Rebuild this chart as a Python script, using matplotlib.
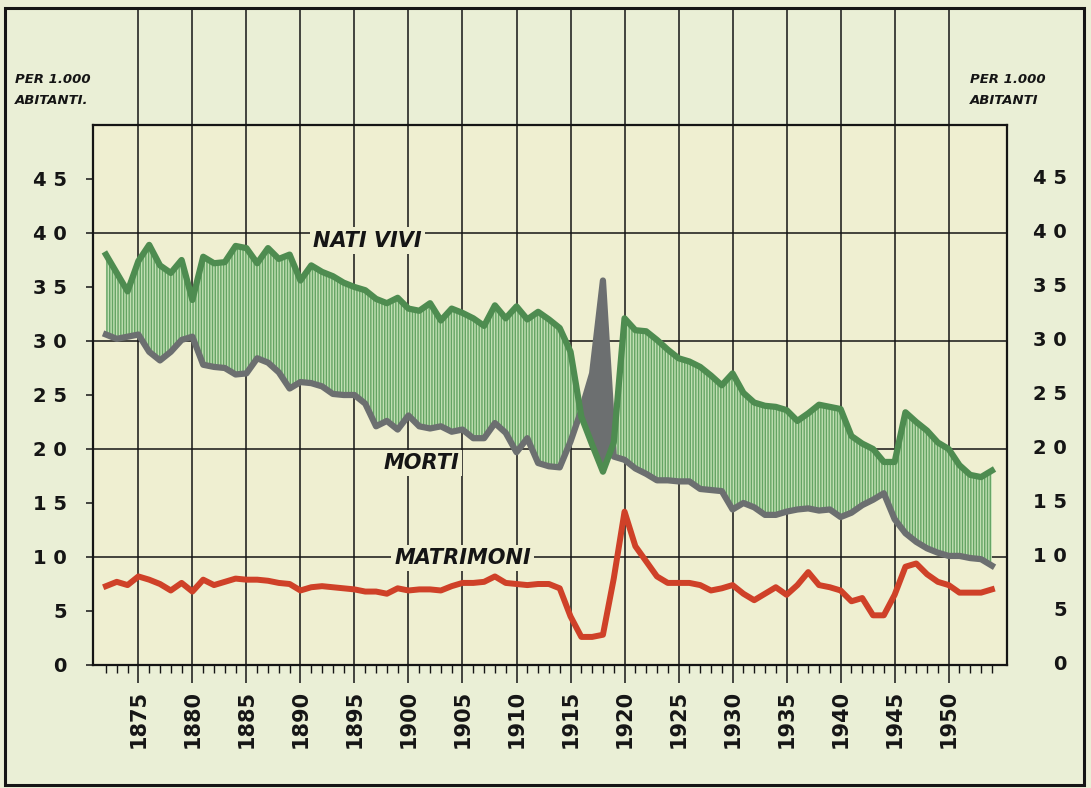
import numpy as np
import matplotlib
matplotlib.use("Agg")
import matplotlib.pyplot as plt
from matplotlib import transforms
from matplotlib.patches import Rectangle

# ---- data (per 1,000 inhabitants) ----
years = np.arange(1872, 1955)

nati_vivi = [38.0, 36.3, 34.6, 37.4, 38.9, 37.0, 36.3, 37.5, 33.8, 37.8,
             37.2, 37.3, 38.8, 38.6, 37.2, 38.6, 37.6, 38.0, 35.6, 37.0,
             36.4, 36.0, 35.4, 35.0, 34.7, 33.9, 33.5, 34.0, 33.0, 32.8,
             33.5, 31.9, 33.0, 32.6, 32.1, 31.4, 33.3, 32.1, 33.2, 32.0,
             32.7, 32.0, 31.2, 29.0, 23.0, 20.4, 17.9, 20.6, 32.1, 31.0,
             30.9, 30.1, 29.2, 28.4, 28.1, 27.6, 26.8, 25.9, 27.0, 25.2,
             24.3, 24.0, 23.9, 23.6, 22.6, 23.3, 24.1, 23.9, 23.7, 21.2,
             20.5, 20.0, 18.8, 18.8, 23.4, 22.5, 21.7, 20.6, 20.0, 18.5,
             17.6, 17.4, 18.0]

morti = [30.6, 30.2, 30.4, 30.6, 29.0, 28.2, 29.0, 30.1, 30.4, 27.8,
         27.6, 27.5, 26.9, 27.0, 28.4, 28.0, 27.1, 25.6, 26.2, 26.1,
         25.8, 25.1, 25.0, 25.0, 24.2, 22.1, 22.6, 21.8, 23.1, 22.1,
         21.9, 22.1, 21.6, 21.8, 21.0, 21.0, 22.4, 21.5, 19.7, 21.0,
         18.7, 18.4, 18.3, 20.7, 23.6, 27.0, 35.6, 19.3, 19.0, 18.2,
         17.7, 17.1, 17.1, 17.0, 17.0, 16.3, 16.2, 16.1, 14.4, 15.0,
         14.6, 13.9, 13.9, 14.2, 14.4, 14.5, 14.3, 14.4, 13.7, 14.1,
         14.8, 15.3, 15.9, 13.5, 12.2, 11.4, 10.8, 10.4, 10.1, 10.1,
         9.9, 9.8, 9.2]

matrimoni = [7.3, 7.7, 7.4, 8.2, 7.9, 7.5, 6.9, 7.6, 6.8, 7.9,
             7.4, 7.7, 8.0, 7.9, 7.9, 7.8, 7.6, 7.5, 6.9, 7.2,
             7.3, 7.2, 7.1, 7.0, 6.8, 6.8, 6.6, 7.1, 6.9, 7.0,
             7.0, 6.9, 7.3, 7.6, 7.6, 7.7, 8.2, 7.6, 7.5, 7.4,
             7.5, 7.5, 7.1, 4.5, 2.6, 2.6, 2.8, 8.0, 14.2, 11.0,
             9.6, 8.2, 7.6, 7.6, 7.6, 7.4, 6.9, 7.1, 7.4, 6.6,
             6.0, 6.6, 7.2, 6.5, 7.4, 8.6, 7.4, 7.2, 6.9, 5.9,
             6.2, 4.6, 4.6, 6.5, 9.1, 9.4, 8.4, 7.7, 7.4, 6.7,
             6.7, 6.7, 7.0]

y_ticks = [0, 5, 10, 15, 20, 25, 30, 35, 40, 45]
y_labels = ["0", "5", "1 0", "1 5", "2 0", "2 5", "3 0", "3 5", "4 0", "4 5"]
x_major = [1875, 1880, 1885, 1890, 1895, 1900, 1905, 1910, 1915, 1920,
           1925, 1930, 1935, 1940, 1945, 1950]
h_grid = [10, 20, 30, 40]

# ---- style ----
BG = "#eaefd6"
AX_BG = "#efefd1"
INK = "#151515"
GREEN = "#4e8c50"
GREY = "#6c6f70"
RED = "#cf4128"
FILL = "#c2e0b4"
HATCH = "#64a463"

plt.rcParams["font.family"] = "DejaVu Sans"
plt.rcParams["hatch.linewidth"] = 1.0

W, H = 1091, 788
fig = plt.figure(figsize=(W / 100, H / 100), dpi=100, facecolor=BG)


def fx(px):
    return px / W


def fy(py):
    return 1 - py / H


ax = fig.add_axes([fx(93), fy(665), fx(1007) - fx(93), fy(125) - fy(665)])
ax.set_facecolor(AX_BG)
ax.set_xlim(1870.8, 1955.4)
ax.set_ylim(0, 50)

# outer frame of the plate
fig.add_artist(Rectangle((fx(5), fy(785)), fx(1084) - fx(5), fy(8) - fy(785),
                         transform=fig.transFigure, fill=False, lw=2.2,
                         ec=INK))

# grid: verticals run up to the frame top
ax.vlines(x_major, 0, 60.8, colors=INK, lw=1.1, clip_on=False, zorder=1)
ax.hlines(h_grid, 1870.8, 1955.4, colors=INK, lw=1.1, zorder=1)

b = np.array(nati_vivi)
d = np.array(morti)
ax.fill_between(years, b, d, where=b >= d, interpolate=True,
                facecolor=FILL, edgecolor=HATCH, hatch="||||||", lw=0,
                zorder=2)
ax.fill_between(years, b, d, where=b < d, interpolate=True,
                facecolor=GREY, edgecolor=GREY, lw=0, zorder=2)

ax.plot(years, morti, color=GREY, lw=4.5, solid_joinstyle="round", zorder=3)
ax.plot(years, nati_vivi, color=GREEN, lw=4.5, solid_joinstyle="round",
        zorder=4)
ax.plot(years, matrimoni, color=RED, lw=4.3, solid_joinstyle="round",
        zorder=4)

lab_kw = dict(fontsize=15, fontweight="bold", fontstyle="italic", color=INK,
              ha="center", va="center", zorder=5,
              bbox=dict(boxstyle="square,pad=0.15", fc=AX_BG, ec="none"))
ax.text(1896.2, 39.3, "NATI VIVI", **lab_kw)
ax.text(1901.2, 18.7, "MORTI", **lab_kw)
ax.text(1905.0, 9.9, "MATRIMONI", **lab_kw)

for s in ax.spines.values():
    s.set_linewidth(1.6)
    s.set_color(INK)

ax.set_xticks(x_major)
ax.set_xticklabels([str(y) for y in x_major], rotation=90, fontsize=15,
                   fontweight="bold")
ax.set_xticks(years, minor=True)
ax.tick_params(axis="x", which="major", length=13, width=1.1, pad=5,
               colors=INK)
ax.tick_params(axis="x", which="minor", length=5.5, width=1.0, colors=INK)

ax.set_yticks(y_ticks)
ax.set_yticklabels(y_labels, fontsize=14, fontweight="bold")
ax.tick_params(axis="y", which="major", length=5, width=1.1, pad=14,
               colors=INK)

# right-hand scale (labels only)
trans = transforms.blended_transform_factory(fig.transFigure, ax.transData)
for v, lab in zip(y_ticks, y_labels):
    ax.text(fx(1067), v, lab, transform=trans, ha="right", va="center",
            fontsize=14, fontweight="bold", color=INK, clip_on=False)

hdr = dict(fontsize=9.5, fontweight="bold", fontstyle="italic", color=INK,
           va="top", linespacing=1.8)
fig.text(fx(15), fy(73), "PER 1.000\nABITANTI.", ha="left", **hdr)
fig.text(fx(970), fy(73), "PER 1.000\nABITANTI", ha="left", **hdr)

fig.savefig("out.png", dpi=100, facecolor=BG)
